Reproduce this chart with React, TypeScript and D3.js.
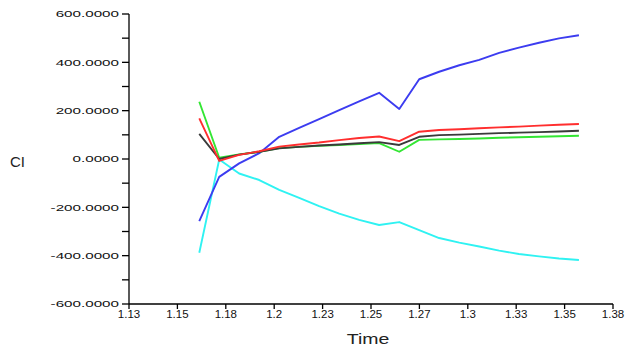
import React, { useRef, useEffect } from "react";
import * as d3 from "d3";

// sample times
const times = [
  1.1613, 1.1716, 1.1819, 1.1923, 1.2026, 1.2129, 1.2232, 1.2336, 1.2439, 1.2542,
  1.2646, 1.2749, 1.2852, 1.2956, 1.3059, 1.3162, 1.3264, 1.3368, 1.3471, 1.3574,
];

const blue = [-257, -74, -18, 24, 92, 129, 165, 202, 238, 274, 207, 330, 361, 388, 410, 439, 461, 481, 499, 512];
const cyan = [-388, -2, -60, -87, -128, -161, -195, -226, -252, -273, -261, -294, -327, -346, -362, -379, -393, -403, -412, -418];
const red = [168, -8, 17, 32, 51, 60, 68, 78, 87, 93, 74, 113, 120, 123, 127, 131, 134, 138, 142, 145];
const black = [104, 0, 18, 30, 44, 50, 56, 60, 65, 70, 58, 92, 99, 101, 104, 107, 109, 111, 114, 117];
const green = [237, 5, 19, 30, 45, 50, 55, 58, 62, 66, 30, 79, 81, 83, 85, 88, 90, 92, 94, 96];

const series = [
  { name: "cyan", color: "#2ff2f2", values: cyan },
  { name: "blue", color: "#3c3cf0", values: blue },
  { name: "green", color: "#33e633", values: green },
  { name: "black", color: "#3a3a3a", values: black },
  { name: "red", color: "#ff2e2e", values: red },
];

const xTickValues = [1.125, 1.15, 1.175, 1.2, 1.225, 1.25, 1.275, 1.3, 1.325, 1.35, 1.375];
const xTickLabels = ["1.13", "1.15", "1.18", "1.2", "1.23", "1.25", "1.27", "1.3", "1.33", "1.35", "1.38"];
const yTickValues = [600, 400, 200, 0, -200, -400, -600];
const yTickLabels = ["600.0000", "400.0000", "200.0000", "0.0000", "-200.0000", "-400.0000", "-600.0000"];
const yMinorTicks = [500, 300, 100, -100, -300, -500];

const W = 636;
const H = 356;

const App = () => {
  const svgRef = useRef<SVGSVGElement>(null);

  useEffect(() => {
    const svg = d3.select(svgRef.current);
    svg.selectAll("*").remove();

    const x = d3.scaleLinear().domain([1.125, 1.375]).range([129, 613]);
    const y = d3.scaleLinear().domain([-600, 600]).range([304, 14]);

    const font = "'Liberation Sans', Arial, sans-serif";

    // lines
    const line = d3
      .line<number>()
      .x((d, i) => x(times[i]))
      .y((d) => y(d));

    const gLines = svg.append("g").attr("fill", "none");
    series.forEach((s) => {
      gLines
        .append("path")
        .attr("d", line(s.values))
        .attr("stroke", s.color)
        .attr("stroke-width", 1.9)
        .attr("stroke-linejoin", "round");
    });

    // axes
    const gAxis = svg.append("g").attr("stroke", "#000").attr("stroke-width", 1.3);
    gAxis.append("line").attr("x1", 129).attr("x2", 129).attr("y1", y(600)).attr("y2", y(-600));
    gAxis.append("line").attr("x1", 129).attr("x2", x(1.375)).attr("y1", y(-600)).attr("y2", y(-600));

    yTickValues.concat(yMinorTicks).forEach((v) => {
      gAxis.append("line").attr("x1", 122).attr("x2", 129).attr("y1", y(v)).attr("y2", y(v));
    });
    xTickValues.forEach((v) => {
      gAxis.append("line").attr("x1", x(v)).attr("x2", x(v)).attr("y1", 304).attr("y2", 309);
    });

    // y tick labels (wide)
    yTickValues.forEach((v, i) => {
      svg
        .append("text")
        .attr("transform", `translate(119,${y(v) + 3.3}) scale(1.6,1)`)
        .attr("text-anchor", "end")
        .attr("font-family", font)
        .attr("font-size", 9.5)
        .attr("fill", "#111")
        .text(yTickLabels[i]);
    });

    // x tick labels
    xTickValues.forEach((v, i) => {
      svg
        .append("text")
        .attr("transform", `translate(${x(v)},318) scale(1.15,1)`)
        .attr("text-anchor", "middle")
        .attr("font-family", font)
        .attr("font-size", 10)
        .attr("fill", "#111")
        .text(xTickLabels[i]);
    });

    // axis titles
    svg
      .append("text")
      .attr("x", 10)
      .attr("y", 167)
      .attr("font-family", font)
      .attr("font-size", 15)
      .attr("fill", "#222")
      .text("CI");

    svg
      .append("text")
      .attr("transform", `translate(368,344) scale(1.3,1)`)
      .attr("text-anchor", "middle")
      .attr("font-family", font)
      .attr("font-size", 15)
      .attr("fill", "#222")
      .text("Time");
  }, []);

  return (
    <svg
      ref={svgRef}
      width={W}
      height={H}
      style={{ position: "absolute", left: 0, top: 0, background: "#fff", display: "block" }}
    />
  );
};

export default App;
